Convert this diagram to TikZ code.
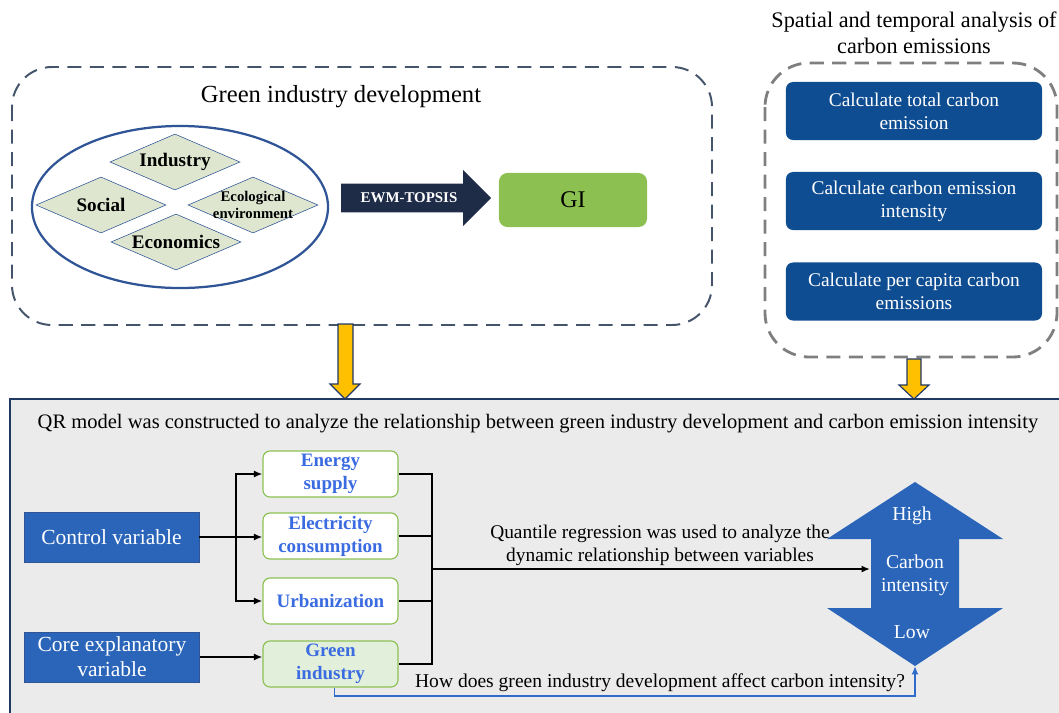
\documentclass[tikz,border=0pt]{standalone}
\usepackage{fontspec}
\setmainfont{Liberation Serif}
\usetikzlibrary{shapes.geometric,shapes.arrows,arrows.meta,positioning}
\definecolor{slate}{HTML}{44546A}
\definecolor{dashgray}{HTML}{7F7F7F}
\definecolor{ellblue}{HTML}{2F5597}
\definecolor{diagreen}{HTML}{DEE6D0}
\definecolor{ewmnavy}{HTML}{1F2C48}
\definecolor{gigreen}{HTML}{8CC152}
\definecolor{calcblue}{HTML}{0F4D92}
\definecolor{amber}{HTML}{FFC000}
\definecolor{navy}{HTML}{1F3864}
\definecolor{panelgray}{HTML}{EBEBEB}
\definecolor{varblue}{HTML}{2A65B9}
\definecolor{boxgreen}{HTML}{8CC152}
\definecolor{lightgreen}{HTML}{E2EFDA}
\definecolor{textblue}{HTML}{3A6BE0}
\definecolor{fbblue}{HTML}{2E6BCB}
\begin{document}
\begin{tikzpicture}[x=0.025cm,y=-0.025cm,
  dia/.style={diamond,draw=ellblue,fill=diagreen,inner sep=0pt,minimum width=3.25cm,minimum height=1.4cm},
  diatext/.style={font=\bfseries\fontsize{13.6}{15}\selectfont},
  calcbox/.style={rectangle,rounded corners=5pt,fill=calcblue,text=white,minimum width=6.4cm,minimum height=1.45cm,align=center,font=\fontsize{13.8}{16.4}\selectfont},
  varbox/.style={rectangle,draw=ellblue,fill=varblue,text=white,minimum width=4.375cm,minimum height=1.25cm,inner sep=1pt,align=center,font=\fontsize{15.3}{17.8}\selectfont},
  factor/.style={rectangle,rounded corners=5pt,draw=boxgreen,line width=0.8pt,fill=white,text=textblue,minimum width=3.375cm,minimum height=1.15cm,inner sep=1pt,align=center,font=\bfseries\fontsize{13.5}{16.4}\selectfont},
  link/.style={line width=1.2pt},
  tip/.style={-{Latex[length=6pt,width=5pt]}},
  yarrow/.style={fill=amber,draw=navy,line width=0.8pt},
  whitetext/.style={text=white,align=center,font=\fontsize{14}{16.4}\selectfont}]
\useasboundingbox (0,0) rectangle (1059,712);
% green industry development
\draw[slate,line width=1.4pt,dash pattern=on 10pt off 6pt,rounded corners=1cm](12,67) rectangle (712,325);
\node[font=\fontsize{17.5}{20}\selectfont] (gidtitle) at (341,97) {Green industry development};
\node[ellipse,draw=ellblue,line width=1.6pt,minimum width=7.4cm,minimum height=4.05cm] (dims) at (180,207) {};
\node[dia,label={[diatext]center:Industry}] (industry) at (175,162) {};
\node[dia,label={[diatext]center:Social}] (social) at (101,205) {};
\node[dia,label={[align=center,font=\bfseries\fontsize{10.5}{12.5}\selectfont]center:Ecological\\environment}] (eco) at (253,205) {};
\node[dia,label={[diatext]center:Economics}] (econ) at (176,242) {};
\node[single arrow,fill=ewmnavy,text=white,font=\bfseries\fontsize{10.6}{12}\selectfont,minimum height=3.75cm,single arrow head extend=0.34cm,inner xsep=4pt,inner ysep=5.5pt,text height=7.5pt,text depth=1.5pt] (ewm) at (409,198) {EWM-TOPSIS};
\node[rectangle,rounded corners=6pt,fill=gigreen,minimum width=3.7cm,minimum height=1.35cm,font=\fontsize{17}{20}\selectfont] (gi) at (573,200) {GI};
% carbon emissions
\node[align=center,font=\fontsize{15.8}{18.5}\selectfont] (sttitle) at (914,33) {Spatial and temporal analysis of\\carbon emissions};
\draw[dashgray,line width=2pt,dash pattern=on 10pt off 6pt,rounded corners=1.1cm](765,63) rectangle (1057,357);
\node[calcbox] (total) at (914,111) {Calculate total carbon\\emission};
\node[calcbox] (intens) at (914,201) {Calculate carbon emission\\intensity};
\node[calcbox] (percap) at (914,291.5) {Calculate per capita carbon\\emissions};
% QR model
\draw[fill=panelgray,draw=navy,line width=2pt](10,399) rectangle (1080,730);
\draw[yarrow](338,324)--(353,324)--(353,384)--(360,384)--(345,399)--(330,384)--(338,384)--cycle;
\draw[yarrow](907,359)--(921,359)--(921,385)--(929,385)--(914,399)--(899,385)--(907,385)--cycle;
\node[font=\fontsize{14.6}{16}\selectfont] (qrtitle) at (538,424) {QR model was constructed to analyze the relationship between green industry development and carbon emission intensity};
\node[varbox] (control) at (111.5,537) {Control variable};
\node[varbox] (core) at (112,657) {Core explanatory\\variable};
\node[factor] (energy) at (330.5,474) {Energy\\supply};
\node[factor] (elec) at (330.5,536) {Electricity\\consumption};
\node[factor] (urban) at (330.5,601) {Urbanization};
\node[factor,fill=lightgreen] (green) at (330.5,664) {Green\\industry};
\coordinate (cvsplit) at (236,537);
\draw[link](control.east)--(cvsplit);
\draw[link,tip](cvsplit)|-(energy.west);
\draw[link,tip](cvsplit)--(cvsplit-|elec.west);
\draw[link,tip](cvsplit)|-(urban.west);
\draw[link,tip](core.east)--(core.east-|green.west);
\coordinate (qr) at (432,569);
\draw[link](energy.east)-|(qr|-green.east)--(green.east);
\draw[link](elec.east)--(elec.east-|qr);
\draw[link](urban.east)--(urban.east-|qr);
\fill[varblue](915,482)--(1003,539)--(959,539)--(959,608)--(1003,608)--(915,666)--(827,608)--(871,608)--(871,539)--(827,539)--cycle;
\node[whitetext] (high) at (912,516) {High};
\node[whitetext] (carbon) at (915,575) {Carbon\\intensity};
\node[whitetext] (low) at (912,632) {Low};
\coordinate (ciin) at (870,569);
\coordinate (cibot) at (915,666);
\draw[line width=1.8pt,tip](qr)--(ciin);
\node[align=center,font=\fontsize{13.8}{16.4}\selectfont] (qrlabel) at (660,545) {Quantile regression was used to analyze the\\dynamic relationship between variables};
\coordinate (fbcorner) at (915,696);
\draw[fbblue,line width=1.3pt,tip]([xshift=0.1cm]green.south)|-(fbcorner)--(cibot);
\node[font=\fontsize{13.9}{15}\selectfont] (howq) at (660,683) {How does green industry development affect carbon intensity?};
\end{tikzpicture}
\end{document}
